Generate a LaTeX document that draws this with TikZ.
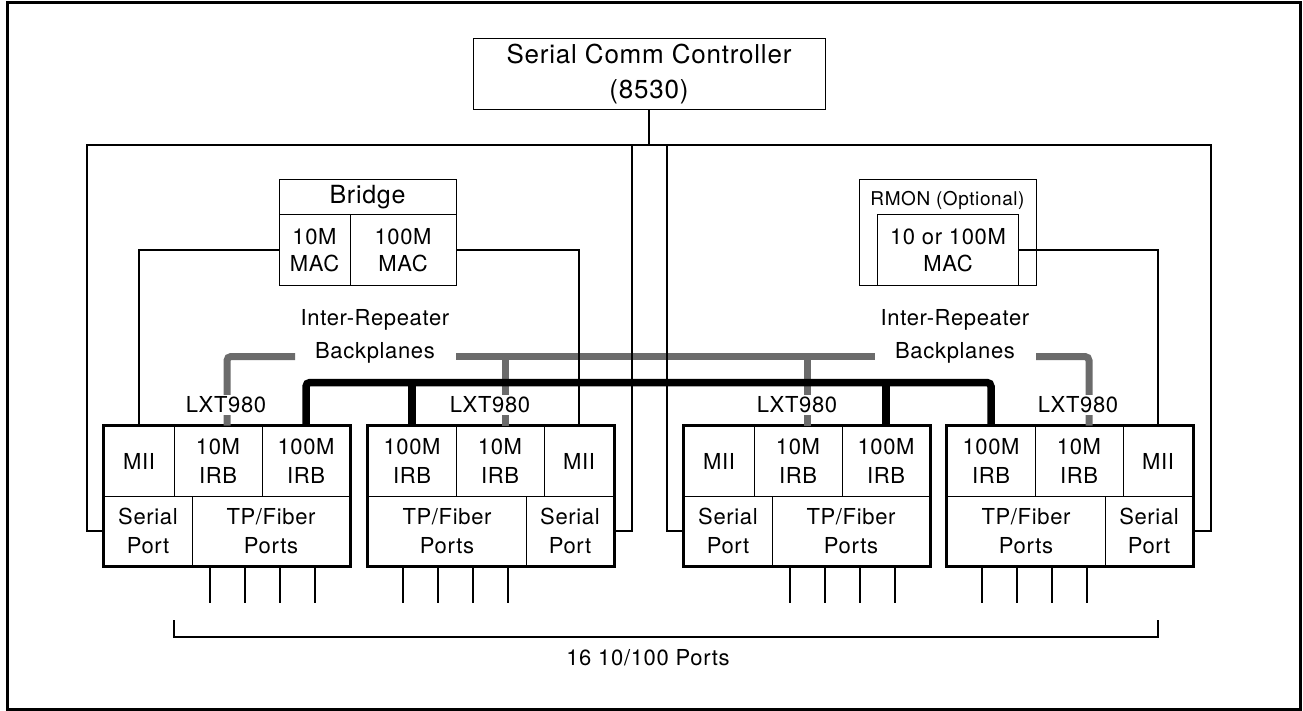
\documentclass[tikz,border=0pt]{standalone}
\usepackage{fontspec}
\setmainfont{TeX Gyre Heros}[LetterSpace=3]
\definecolor{busgray}{gray}{0.42}
\tikzset{
  cell/.style={draw, line width=1pt, minimum height=70, inner sep=0pt, align=center},
  outline/.style={draw, line width=2.3pt},
  wire/.style={draw, line width=1.1pt},
  graybus/.style={draw=busgray, line width=7pt, rounded corners=4pt},
  blackbus/.style={draw=black, line width=7.5pt, rounded corners=4pt},
  lxt/.style={fill=white, inner sep=2pt},
  lbl/.style={align=center}
}
\begin{document}
\begin{tikzpicture}[x=1pt,y=-1pt,font=\fontsize{22}{28.5}\selectfont]
\useasboundingbox (0,0) rectangle (1303,711);
\draw[line width=3pt] (7,3) rectangle (1300,709);

% controller, bridge, rmon
\node[cell, minimum width=352, minimum height=71, font=\fontsize{26}{35}\selectfont] (scc) at (649,74.5) {Serial Comm Controller\\(8530)};
\node[cell, minimum width=177, minimum height=35, font=\fontsize{25}{30}\selectfont] (br) at (367.5,197.5) {Bridge};
\node[cell, minimum width=71, font=\fontsize{22}{27.3}\selectfont] (mc1) at (314.5,250) {10M\\MAC};
\node[cell, minimum width=106, font=\fontsize{22}{27.3}\selectfont] (mc2) at (403,250) {100M\\MAC};
\node[cell, minimum width=176.5, minimum height=105] (rm) at (947.75,232.5) {};
\node[font=\fontsize{19}{22}\selectfont] (rmt) at (947.5,200) {RMON (Optional)};
\node[cell, minimum width=141, font=\fontsize{22}{27.3}\selectfont] (rmc) at (948,250) {10 or 100M\\MAC};

% repeater 1
\node[cell, minimum width=70] (m1) at (139,461) {MII};
\node[cell, minimum width=88] (t1) at (218,461) {10M\\IRB};
\node[cell, minimum width=88] (h1) at (306,461) {100M\\IRB};
\node[cell, minimum width=88] (s1) at (148,531) {Serial\\Port};
\node[cell, minimum width=158] (p1) at (271,531) {TP/Fiber\\Ports};
\draw[outline] (m1.north west) rectangle (p1.south east);

% repeater 2
\node[cell, minimum width=88] (h2) at (412,461) {100M\\IRB};
\node[cell, minimum width=88] (t2) at (500,461) {10M\\IRB};
\node[cell, minimum width=70] (m2) at (579,461) {MII};
\node[cell, minimum width=158] (p2) at (447,531) {TP/Fiber\\Ports};
\node[cell, minimum width=88] (s2) at (570,531) {Serial\\Port};
\draw[outline] (h2.north west) rectangle (s2.south east);

% repeater 3
\node[cell, minimum width=70] (m3) at (719,461) {MII};
\node[cell, minimum width=88] (t3) at (798,461) {10M\\IRB};
\node[cell, minimum width=88] (h3) at (886,461) {100M\\IRB};
\node[cell, minimum width=88] (s3) at (728,531) {Serial\\Port};
\node[cell, minimum width=158] (p3) at (851,531) {TP/Fiber\\Ports};
\draw[outline] (m3.north west) rectangle (p3.south east);

% repeater 4
\node[cell, minimum width=88] (h4) at (991,461) {100M\\IRB};
\node[cell, minimum width=88] (t4) at (1079,461) {10M\\IRB};
\node[cell, minimum width=70] (m4) at (1158,461) {MII};
\node[cell, minimum width=158] (p4) at (1026,531) {TP/Fiber\\Ports};
\node[cell, minimum width=88] (s4) at (1149,531) {Serial\\Port};
\draw[outline] (h4.north west) rectangle (s4.south east);

% backplanes
\coordinate (gL) at (295,356.5);
\coordinate (gM1) at (456,356.5);
\coordinate (gM2) at (875,356.5);
\coordinate (gR) at (1036,356.5);
\coordinate (g1) at ([xshift=9]t1.north);
\coordinate (g2) at ([xshift=5]t2.north);
\coordinate (g3) at ([xshift=9.5]t3.north);
\coordinate (g4) at ([xshift=10]t4.north);
\path[graybus] (g1) |- (gL);
\path[graybus] (gM1) -- (gM2);
\path[graybus] (g2 |- gM1) -- (g2);
\path[graybus] (g3 |- gM1) -- (g3);
\path[graybus] (gR) -| (g4);
\coordinate (bk) at (0,382.5);
\path[blackbus] (h1.north) |- (h4.north |- bk) -- (h4.north);
\path[blackbus] (h2.north) -- (h2.north |- bk);
\path[blackbus] (h3.north) -- (h3.north |- bk);
\node[lbl] (ir1) at (375,336.7) {Inter-Repeater\\[4.8pt]Backplanes};
\node[lbl] (ir2) at (955,336.7) {Inter-Repeater\\[4.8pt]Backplanes};
\node[lxt] (x1) at (226,405) {LXT980};
\node[lxt] (x2) at (490,405) {LXT980};
\node[lxt] (x3) at (797,405) {LXT980};
\node[lxt] (x4) at (1078,405) {LXT980};

% serial loops
\coordinate (lpL) at (87,145);
\coordinate (lpR) at (1211,145);
\coordinate (lp2) at (632,145);
\coordinate (lp3) at (667,145);
\path[wire] (s1.west) -| (lpL) -- (lpR) |- (s4.east);
\path[wire] (s2.east) -| (lp2);
\path[wire] (s3.west) -| (lp3);
\path[wire] (scc.south) -- (scc.south |- lpL);

% mac to mii
\path[wire] (mc1.west) -| (m1.north);
\path[wire] (mc2.east) -| (m2.north);
\path[wire] (rmc.east) -| (m4.north);

% ports
\path[wire] ([xshift=-61]p1.south) -- ++(0,36) ([xshift=-26]p1.south) -- ++(0,36)
  ([xshift=9]p1.south) -- ++(0,36) ([xshift=44]p1.south) -- ++(0,36);
\path[wire] ([xshift=-44]p2.south) -- ++(0,36) ([xshift=-9]p2.south) -- ++(0,36)
  ([xshift=26]p2.south) -- ++(0,36) ([xshift=61]p2.south) -- ++(0,36);
\path[wire] ([xshift=-61]p3.south) -- ++(0,36) ([xshift=-26]p3.south) -- ++(0,36)
  ([xshift=9]p3.south) -- ++(0,36) ([xshift=44]p3.south) -- ++(0,36);
\path[wire] ([xshift=-44]p4.south) -- ++(0,36) ([xshift=-9]p4.south) -- ++(0,36)
  ([xshift=26]p4.south) -- ++(0,36) ([xshift=61]p4.south) -- ++(0,36);
\draw[line width=1.1pt] (174,620) -- (174,637) -- (1158,637) -- (1158,620);
\node (allp) at (648,658) {16 10/100 Ports};
\end{tikzpicture}
\end{document}
